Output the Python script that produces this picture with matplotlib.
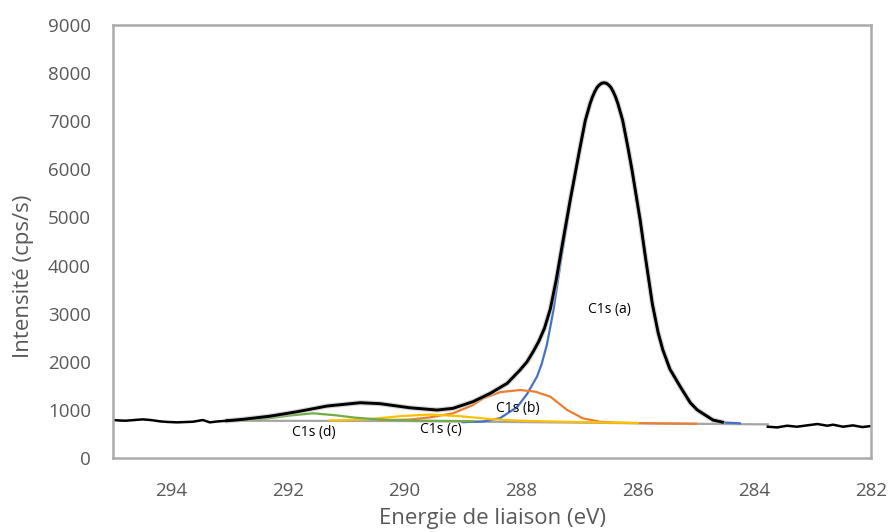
import matplotlib
matplotlib.use('Agg')
import matplotlib.pyplot as plt

plt.rcParams['font.family'] = ['Open Sans', 'DejaVu Sans']

# raw spectrum outside the fit window
left_e = [295.00, 294.88, 294.78, 294.64, 294.49, 294.35, 294.19, 294.06, 293.90,
          293.77, 293.63, 293.46, 293.34, 293.20, 293.04]
left_i = [790, 780, 776, 790, 804, 790, 762, 750, 742, 748, 755, 790, 742, 762, 776]

right_e = [283.77, 283.61, 283.44, 283.27, 283.10, 282.92, 282.75, 282.65, 282.48,
           282.31, 282.15, 282.00]
right_i = [651, 637, 672, 651, 679, 707, 672, 693, 651, 679, 644, 665]

# envelope in the fit window
env_e = [293.04, 292.77, 292.31, 291.84, 291.33, 290.76, 290.42, 289.91, 289.44, 289.17,
         288.83, 288.53, 288.24, 288.02, 287.90, 287.80, 287.70, 287.60, 287.50, 287.40,
         287.30, 287.16, 286.99, 286.90, 286.82, 286.78, 286.74, 286.70, 286.66, 286.62,
         286.58, 286.54, 286.50, 286.46, 286.42, 286.38, 286.34, 286.26, 286.17, 286.10,
         285.96, 285.87, 285.75, 285.65, 285.57, 285.45, 285.27, 285.10, 284.98, 284.71,
         284.55]
env_i = [776, 805, 870, 963, 1081, 1150, 1130, 1045, 998, 1033,
         1170, 1345, 1553, 1830, 2000, 2200, 2420, 2700, 3100, 3700,
         4400, 5360, 6460, 7020, 7360, 7500, 7610, 7700, 7755, 7790,
         7800, 7790, 7755, 7700, 7610, 7500, 7360, 7020, 6460, 5990,
         4950, 4180, 3200, 2600, 2245, 1850, 1480, 1150, 1000, 790,
         745]

# background
bg_e = [293.04, 290.08, 288.71, 287.34, 285.79, 283.77]
bg_i = [775, 770, 755, 740, 720, 700]

# components
a_e = [289.00, 288.65, 288.36, 288.07, 287.90, 287.73, 287.65, 287.56, 287.45, 287.30,
       287.16, 286.99, 286.90, 286.82, 286.78, 286.74, 286.70, 286.66, 286.62, 286.58,
       286.54, 286.50, 286.46, 286.42, 286.38, 286.34, 286.26, 286.17, 286.10, 285.96,
       285.87, 285.75, 285.65, 285.57, 285.45, 285.27, 285.10, 284.98, 284.71, 284.50,
       284.25]
a_i = [745, 760, 830, 1060, 1330, 1690, 1950, 2350, 3050, 4250,
       5300, 6450, 7010, 7350, 7490, 7600, 7690, 7745, 7780, 7790,
       7780, 7745, 7690, 7600, 7490, 7350, 7010, 6450, 5980, 4940,
       4170, 3190, 2590, 2235, 1840, 1470, 1140, 995, 785, 738,
       722]

b_e = [290.42, 289.91, 289.56, 289.17, 288.83, 288.65, 288.36, 288.02, 287.76, 287.50,
       287.21, 286.94, 286.65, 286.36, 285.79, 285.00]
b_i = [785, 800, 846, 930, 1100, 1240, 1370, 1414, 1380, 1275,
       998, 825, 755, 734, 722, 712]

c_e = [291.28, 290.59, 290.08, 289.56, 289.05, 288.53, 288.02, 287.00, 286.00]
c_i = [780, 810, 870, 905, 870, 810, 775, 748, 728]

d_e = [293.04, 292.65, 292.31, 291.96, 291.57, 291.19, 290.85, 290.42, 289.91, 288.83]
d_i = [775, 790, 830, 885, 930, 890, 840, 800, 780, 765]

labels = ['C1s (a)', 'C1s (b)', 'C1s (c)', 'C1s (d)']

fig = plt.figure(figsize=(8.9, 5.32), dpi=100)
ax = fig.add_axes([0.127, 0.139, 0.8517, 0.814])

ax.plot(bg_e, bg_i, color='#A5A5A5', lw=1.6)
ax.plot(a_e, a_i, color='#4472C4', lw=1.6)
ax.plot(b_e, b_i, color='#ED7D31', lw=1.6)
ax.plot(c_e, c_i, color='#FFC000', lw=1.6)
ax.plot(d_e, d_i, color='#70AD47', lw=1.6)
ax.plot(env_e, env_i, color='#BBBBBB', lw=3.8, alpha=0.6)
ax.plot(env_e, env_i, color='black', lw=2.1)
ax.plot(left_e, left_i, color='black', lw=1.8)
ax.plot(right_e, right_i, color='black', lw=1.8)

ax.text(286.48, 3077, labels[0], fontsize=10, ha='center', va='center')
ax.text(288.05, 1040, labels[1], fontsize=10, ha='center', va='center')
ax.text(289.37, 603, labels[2], fontsize=10, ha='center', va='center')
ax.text(291.55, 540, labels[3], fontsize=10, ha='center', va='center')

ax.set_xlim(295, 282)
ax.set_ylim(0, 9000)
ax.set_xticks([294, 292, 290, 288, 286, 284, 282])
ax.set_yticks(range(0, 9001, 1000))
ax.tick_params(axis='both', length=0, labelsize=13.5, labelcolor='#595959')
ax.tick_params(axis='x', pad=17)
ax.tick_params(axis='y', pad=16)
for s in ax.spines.values():
    s.set_color('#ABABAB')
    s.set_linewidth(1.8)

ax.set_xlabel('Energie de liaison (eV)', fontsize=16, color='#595959', labelpad=6)
ax.set_ylabel('Intensité (cps/s)', fontsize=16, color='#595959')
ax.yaxis.set_label_coords(-0.104, 0.42)

fig.savefig('out.png', dpi=100)
